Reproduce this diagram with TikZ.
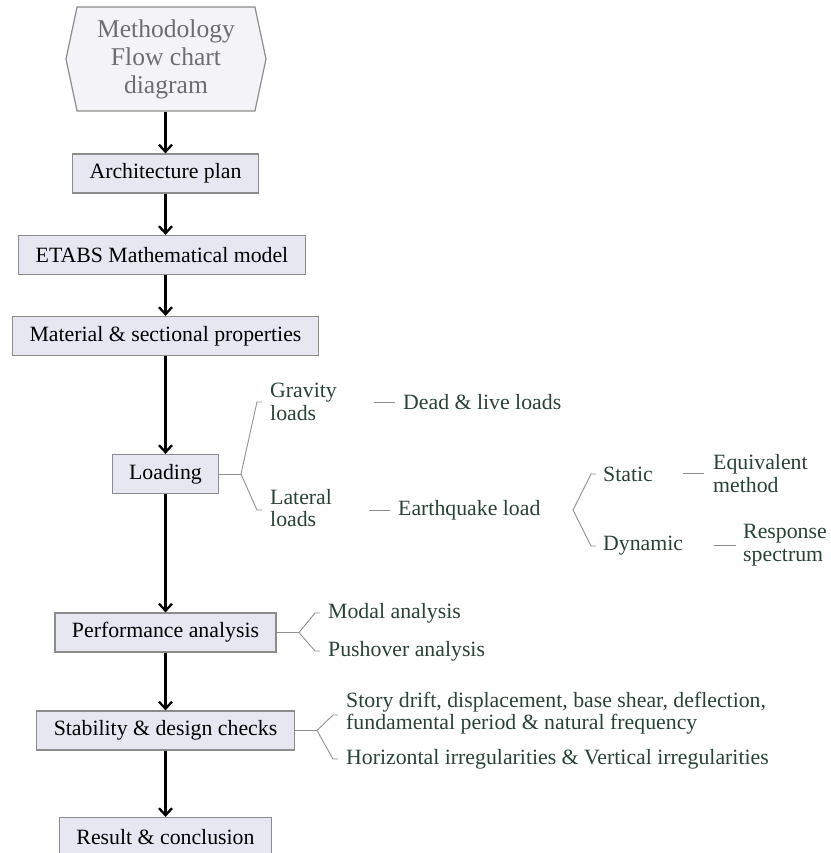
\documentclass[tikz,border=0pt]{standalone}
\usepackage{fontspec}
\setmainfont{Liberation Serif}
\usetikzlibrary{shapes.symbols,arrows.meta}
\definecolor{boxfill}{HTML}{E7E7F2}
\definecolor{boxline}{HTML}{8C8C8C}
\definecolor{hexfill}{HTML}{F4F4F8}
\definecolor{hextext}{HTML}{6E6E6E}
\definecolor{leaftext}{HTML}{2A4236}
\definecolor{twigline}{HTML}{8F8F8F}
\begin{document}
\begin{tikzpicture}[
    x=1pt, y=-1pt,
    flowbox/.style={rectangle, draw=boxline, fill=boxfill, line width=1.2pt,
        inner xsep=17pt, inner ysep=0pt, minimum height=39pt,
        font=\fontsize{21.8}{22}\selectfont},
    startbox/.style={signal, signal to=west and east, signal pointer angle=156,
        draw=boxline, fill=hexfill, line width=1.2pt, minimum width=200pt,
        minimum height=104pt, align=center, text=hextext,
        font=\fontsize{25.6}{28}\selectfont},
    flowarrow/.style={draw, line width=2.3pt, -{Straight Barb[length=7pt,width=13pt]}},
    twig/.style={draw=twigline, line width=0.9pt},
    leaf/.style={anchor=west, inner sep=0pt, align=left, text=leaftext,
        font=\fontsize{21.8}{22.5}\selectfont}
]
\useasboundingbox (0,0) rectangle (830,853);
% main column
\node [startbox] (start) at (166,59) {Methodology\\Flow chart\\diagram};
\node [flowbox] (arch) at (165.5,173.5) {Architecture plan};
\node [flowbox] (etabs) at (162,255) {ETABS Mathematical model};
\node [flowbox] (mat) at (165.5,336) {Material \& sectional properties};
\node [flowbox] (load) at (165.5,474) {Loading};
\node [flowbox] (perf) at (165.5,632.5) {Performance analysis};
\node [flowbox] (stab) at (165.5,730.5) {Stability \& design checks};
\node [flowbox] (res) at (165.5,837) {Result \& conclusion};
\draw [flowarrow] (start.south -| arch) -- (arch);
\draw [flowarrow] (arch) -- (arch |- etabs.north);
\draw [flowarrow] (arch |- etabs.south) -- (mat);
\draw [flowarrow] (mat) -- (load);
\draw [flowarrow] (load) -- (perf);
\draw [flowarrow] (perf) -- (stab);
\draw [flowarrow] (stab) -- (res);
% loading branch
\node [leaf] (grav) at (270,402) {Gravity\\loads};
\node [leaf] (lat) at (270,508) {Lateral\\loads};
\node [leaf] (dead) at (403,402) {Dead \& live loads};
\node [leaf] (quake) at (398,510) {Earthquake load};
\node [leaf] (stat) at (603,474) {Static};
\node [leaf] (dyn) at (603,546) {Dynamic};
\node [leaf] (equiv) at (713,473.5) {Equivalent\\method};
\node [leaf] (resp) at (743,545) {Response\\spectrum};
\coordinate (loadfork) at (241,474);
\draw [twig] (load.east) -- (loadfork);
\draw [twig] (loadfork) -- ([xshift=-13pt]grav.west) -- ([xshift=-8pt]grav.west);
\draw [twig] (loadfork) -- ([shift={(-13pt,-2pt)}]lat.west) -- ([shift={(-8pt,-2pt)}]lat.west);
\draw [twig] ([xshift=-29pt]dead.west) -- ([xshift=-8pt]dead.west);
\draw [twig] ([xshift=-29pt]quake.west) -- ([xshift=-8pt]quake.west);
\coordinate (quakefork) at (573,510);
\draw [twig] (quakefork) -- ([xshift=-12pt]stat.west) -- ([xshift=-7pt]stat.west);
\draw [twig] (quakefork) -- ([xshift=-12pt]dyn.west) -- ([xshift=-7pt]dyn.west);
\draw [twig] ([xshift=-30pt]equiv.west) -- ([xshift=-9pt]equiv.west);
\draw [twig] ([xshift=-29pt]resp.west) -- ([xshift=-7pt]resp.west);
% performance branch
\node [leaf] (modal) at (328,613) {Modal analysis};
\node [leaf] (push) at (328,651) {Pushover analysis};
\coordinate (perffork) at (299,632.5);
\draw [twig] (perf.east) -- (perffork);
\draw [twig] (perffork) -- ([xshift=-13pt]modal.west) -- ([xshift=-8pt]modal.west);
\draw [twig] (perffork) -- ([xshift=-13pt]push.west) -- ([xshift=-8pt]push.west);
% stability branch
\node [leaf] (story) at (346,713) {Story drift, displacement, base shear, deflection,\\fundamental period \& natural frequency};
\node [leaf] (irreg) at (346,759) {Horizontal irregularities \& Vertical irregularities};
\coordinate (stabfork) at (317,730.5);
\draw [twig] (stab.east) -- (stabfork);
\draw [twig] (stabfork) -- ([shift={(-13pt,-2pt)}]story.west) -- ([shift={(-8pt,-2pt)}]story.west);
\draw [twig] (stabfork) -- ([xshift=-13pt]irreg.west) -- ([xshift=-8pt]irreg.west);
\end{tikzpicture}
\end{document}
